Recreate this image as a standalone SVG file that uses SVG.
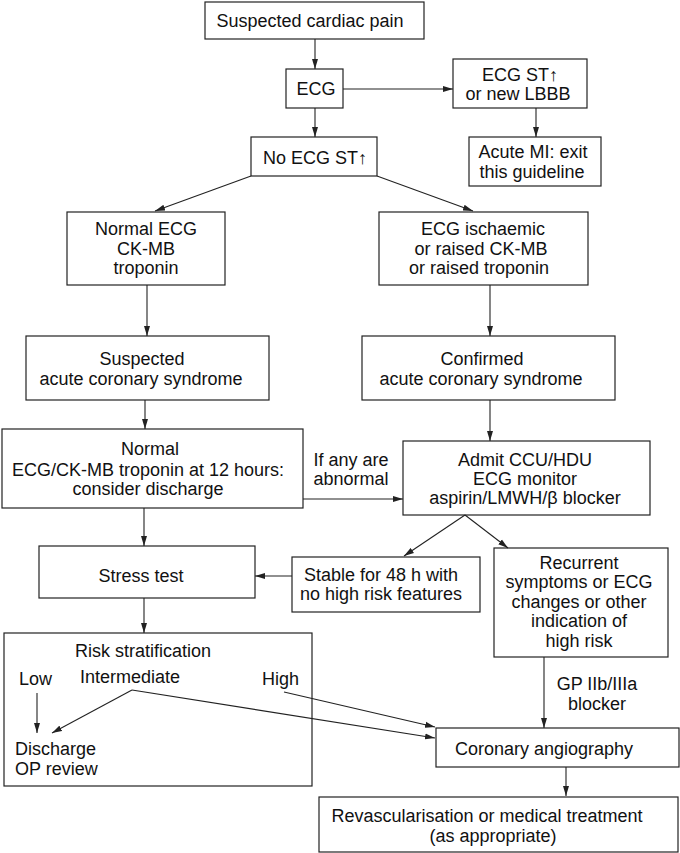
<svg xmlns="http://www.w3.org/2000/svg" width="680" height="853" viewBox="0 0 680 853">
<style>
.box{fill:#fff;stroke:#222;stroke-width:1.2}
.t{font-family:"Liberation Sans",Arial,sans-serif;font-size:18px;fill:#111;text-anchor:middle}
.tl{font-family:"Liberation Sans",Arial,sans-serif;font-size:18px;fill:#111}
.a{stroke:#222;stroke-width:1.1;fill:none;marker-end:url(#ah)}
</style>
<defs>
<marker id="ah" markerUnits="userSpaceOnUse" markerWidth="11" markerHeight="7" refX="10" refY="3.5" orient="auto">
<path d="M0,0.5 L10,3.5 L0,6.5 z" fill="#222"/>
</marker>
</defs>
<rect width="680" height="853" fill="#fff"/>
<g id="n-start">
<rect class="box" x="205" y="2" width="219" height="37"/>
<text class="t" x="310" y="27">Suspected cardiac pain</text>
</g>
<g id="n-ecg">
<rect class="box" x="286" y="69" width="57" height="39"/>
<text class="t" x="316" y="95">ECG</text>
</g>
<g id="n-stup">
<rect class="box" x="453" y="59" width="134" height="49"/>
<text class="t" x="520" y="81">ECG ST↑</text>
<text class="t" x="518" y="100">or new LBBB</text>
</g>
<g id="n-ami">
<rect class="box" x="469" y="137" width="132" height="49"/>
<text class="t" x="533" y="158">Acute MI: exit</text>
<text class="t" x="532" y="178">this guideline</text>
</g>
<g id="n-nost">
<rect class="box" x="251" y="137" width="126" height="39"/>
<text class="t" x="315" y="164">No ECG ST↑</text>
</g>
<g id="n-normal">
<rect class="box" x="67" y="212" width="158" height="73"/>
<text class="t" x="146" y="235">Normal ECG</text>
<text class="t" x="146" y="255">CK-MB</text>
<text class="t" x="146" y="274">troponin</text>
</g>
<g id="n-isch">
<rect class="box" x="379" y="212" width="209" height="73"/>
<text class="t" x="483" y="235">ECG ischaemic</text>
<text class="t" x="481" y="255">or raised CK-MB</text>
<text class="t" x="479" y="274">or raised troponin</text>
</g>
<g id="n-suspacs">
<rect class="box" x="26" y="336" width="243" height="64"/>
<text class="t" x="142" y="365">Suspected</text>
<text class="t" x="141" y="385">acute coronary syndrome</text>
</g>
<g id="n-confacs">
<rect class="box" x="362" y="336" width="253" height="64"/>
<text class="t" x="482" y="365">Confirmed</text>
<text class="t" x="481" y="385">acute coronary syndrome</text>
</g>
<g id="n-12h">
<rect class="box" x="2" y="429" width="301" height="79"/>
<text class="t" x="150" y="455">Normal</text>
<text class="t" x="148" y="476">ECG/CK-MB troponin at 12 hours:</text>
<text class="t" x="148" y="495">consider discharge</text>
</g>
<g id="n-admit">
<rect class="box" x="403" y="441" width="247" height="74"/>
<text class="t" x="525" y="466">Admit CCU/HDU</text>
<text class="t" x="525" y="485">ECG monitor</text>
<text class="t" x="525" y="504">aspirin/LMWH/β blocker</text>
</g>
<g id="n-stress">
<rect class="box" x="39" y="546" width="216" height="52"/>
<text class="t" x="141" y="582">Stress test</text>
</g>
<g id="n-stable">
<rect class="box" x="292" y="557" width="188" height="55"/>
<text class="t" x="381" y="581">Stable for 48 h with</text>
<text class="t" x="381" y="600">no high risk features</text>
</g>
<g id="n-recurrent">
<rect class="box" x="494" y="548" width="174" height="109"/>
<text class="t" x="579" y="569">Recurrent</text>
<text class="t" x="579" y="588">symptoms or ECG</text>
<text class="t" x="579" y="608">changes or other</text>
<text class="t" x="579" y="627">indication of</text>
<text class="t" x="579" y="647">high risk</text>
</g>
<g id="n-risk">
<rect class="box" x="4" y="633" width="308" height="153"/>
<text class="t" x="143" y="657">Risk stratification</text>
<text class="tl" x="19" y="685">Low</text>
<text class="tl" x="80" y="683">Intermediate</text>
<text class="tl" x="262" y="685">High</text>
<text class="tl" x="15" y="755">Discharge</text>
<text class="tl" x="15" y="775">OP review</text>
</g>
<g id="n-angio">
<rect class="box" x="436" y="728" width="243" height="39"/>
<text class="t" x="544" y="755">Coronary angiography</text>
</g>
<g id="n-revasc">
<rect class="box" x="319" y="797" width="359" height="55"/>
<text class="t" x="487" y="822">Revascularisation or medical treatment</text>
<text class="t" x="493" y="842">(as appropriate)</text>
</g>
<g id="connectors">
<line class="a" x1="315" y1="39" x2="315" y2="69"/>
<line class="a" x1="343" y1="89" x2="453" y2="89"/>
<line class="a" x1="315" y1="108" x2="315" y2="137"/>
<line class="a" x1="536" y1="108" x2="536" y2="137"/>
<line class="a" x1="251" y1="176" x2="155" y2="211"/>
<line class="a" x1="377" y1="176" x2="473" y2="211"/>
<line class="a" x1="147" y1="285" x2="147" y2="336"/>
<line class="a" x1="490" y1="285" x2="490" y2="336"/>
<line class="a" x1="145" y1="400" x2="145" y2="429"/>
<line class="a" x1="490" y1="400" x2="490" y2="441"/>
<line class="a" x1="303" y1="499" x2="403" y2="499"/>
<line class="a" x1="144" y1="508" x2="144" y2="546"/>
<line class="a" x1="465" y1="515" x2="404" y2="556"/>
<line class="a" x1="465" y1="515" x2="508" y2="548"/>
<line class="a" x1="292" y1="576" x2="255" y2="576"/>
<line class="a" x1="144" y1="598" x2="144" y2="633"/>
<line class="a" x1="37" y1="693" x2="37" y2="733"/>
<line class="a" x1="132" y1="690" x2="52" y2="733"/>
<line class="a" x1="132" y1="690" x2="435" y2="738"/>
<line class="a" x1="284" y1="692" x2="435" y2="727"/>
<line class="a" x1="544" y1="657" x2="544" y2="728"/>
<line class="a" x1="566" y1="767" x2="566" y2="796"/>
<text class="t" x="351" y="466">If any are</text>
<text class="t" x="351" y="485">abnormal</text>
<text class="t" x="597" y="690">GP IIb/IIIa</text>
<text class="t" x="597" y="710">blocker</text>
</g>
</svg>
